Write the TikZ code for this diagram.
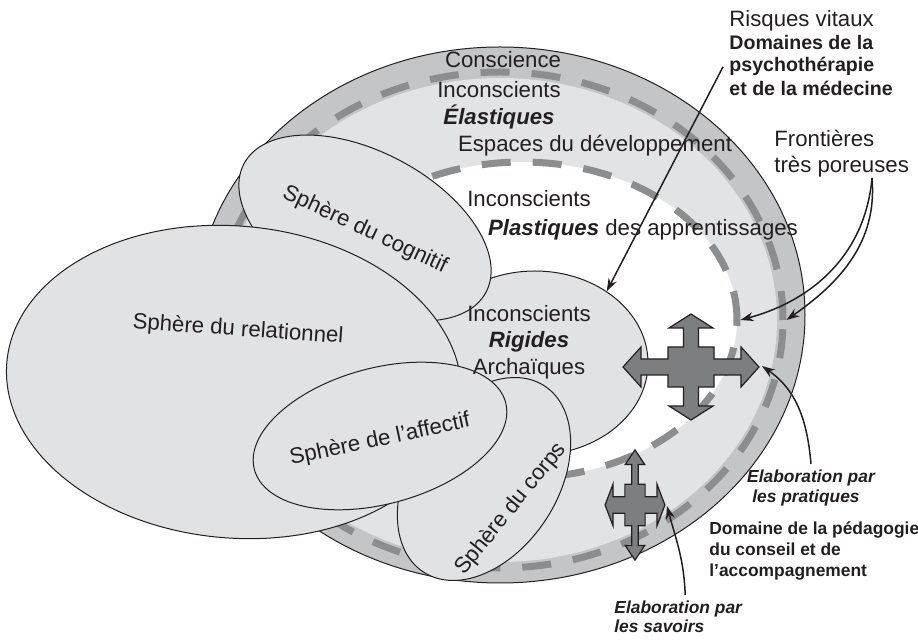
\documentclass[tikz,border=0pt]{standalone}
\usepackage{fontspec}
\setmainfont{Liberation Sans}
\usetikzlibrary{shapes.geometric,arrows.meta}

\definecolor{ink}{RGB}{35,31,32}
\definecolor{ringgray}{RGB}{196,197,199}
\definecolor{bandgray}{RGB}{226,227,229}
\definecolor{spheregray}{RGB}{225,226,228}
\definecolor{dashgray}{RGB}{140,141,143}
\definecolor{arrowgray}{RGB}{125,126,128}

% four-headed stepped arrow: centre, xscale, yscale
\newcommand{\quadarrow}[3]{%
  \draw[crossarrow, shift={(#1)}, xscale=#2, yscale=#3]
    (0,-53) -- (22,-39) -- (7.5,-39) -- (7.5,-20) -- (23,-20) -- (23,-8)
    -- (50,-8) -- (50,-20) -- (68,0) -- (50,20) -- (50,8) -- (23,8)
    -- (23,20) -- (7.5,20) -- (7.5,39) -- (22,39) -- (0,53) -- (-22,39)
    -- (-7.5,39) -- (-7.5,20) -- (-23,20) -- (-23,8) -- (-50,8) -- (-50,20)
    -- (-68,0) -- (-50,-20) -- (-50,-8) -- (-23,-8) -- (-23,-20)
    -- (-7.5,-20) -- (-7.5,-39) -- (-22,-39) -- cycle;}

\begin{document}
\begin{tikzpicture}[x=0.5pt, y=-0.5pt,
  every node/.style={font=\fontsize{11.1}{13.3}\selectfont, text=ink, inner sep=3pt},
  sphere/.style={ellipse, draw=ink, line width=0.5pt, fill=spheregray, inner sep=0pt},
  ringdash/.style={ellipse, draw=dashgray, line width=3.5pt, dash pattern=on 14.5pt off 11pt, inner sep=0pt},
  crossarrow/.style={draw=ink, line width=0.6pt, fill=arrowgray, line join=miter},
  pointer/.style={draw=ink, line width=0.75pt, -{Stealth[length=6.5pt, width=4.5pt]}},
  boldtext/.style={font=\bfseries\fontsize{9.8}{11.6}\selectfont},
  smallbold/.style={font=\bfseries\fontsize{8.7}{10.6}\selectfont},
  smallslant/.style={font=\bfseries\itshape\fontsize{8.7}{10}\selectfont}]
  \useasboundingbox (0,0) rectangle (918,640);

  % outer frontier rings
  \node[ellipse, draw=ink, line width=0.5pt, fill=ringgray, inner sep=0pt,
        minimum width=305pt, minimum height=268pt] (outer) at (500,315) {};
  \node[ellipse, fill=bandgray, inner sep=0pt,
        minimum width=277pt, minimum height=242pt] (band) at (500,320) {};
  \node[ringdash, minimum width=283pt, minimum height=248pt] (outdash) at (500,320) {};
  \node[ringdash, fill=white, minimum width=215pt, minimum height=158pt] (indash) at (522,320) {};

  % spheres
  \node[sphere, minimum width=113pt, minimum height=92pt] (rig) at (535,363) {};
  \node[sphere, minimum width=111pt, minimum height=74pt, rotate=57] (corps) at (484,479) {};
  \node[sphere, minimum width=137pt, minimum height=76pt, rotate=-28] (cog) at (365,228) {};
  \node[sphere, minimum width=228pt, minimum height=156pt, rotate=-5] (rel) at (234,382) {};
  \node[sphere, minimum width=130pt, minimum height=68pt, rotate=15] (aff) at (380,436) {};

  % crosses
  \coordinate (bigcross) at (691,367);
  \coordinate (smallcross) at (635,505);
  \quadarrow{bigcross}{1}{1}
  \quadarrow{smallcross}{0.44}{1.04}

  % texts in the rings
  \node[anchor=base] (consc) at (503,68) {Conscience};
  \node[anchor=base] (incel) at (499,98) {Inconscients};
  \node[anchor=base] (elast) at (499,125) {\textbf{\textit{Élastiques}}};
  \node[anchor=base] (espace) at (595,152) {Espaces du développement};
  \node[anchor=base] (incpl) at (529,207) {Inconscients};
  \node[anchor=base] (plast) at (643,236) {\textbf{\textit{Plastiques}} des apprentissages};
  \node[align=center] (rigtxt) at (529,342) {Inconscients\\\textbf{\textit{Rigides}}\\Archaïques};

  % texts in the spheres
  \node[rotate=-4] (reltxt) at (238,330) {Sphère du relationnel};
  \node[rotate=-25] (cogtxt) at (365,230) {Sphère du cognitif};
  \node[rotate=12] (afftxt) at (380,440) {Sphère de l’affectif};
  \node[rotate=51] (cortxt) at (511,509) {Sphère du corps};

  % side labels
  \node[anchor=base west] (risk) at (723,27) {Risques vitaux};
  \node[anchor=base west, boldtext] (dom1) at (723,50) {Domaines de la};
  \node[anchor=base west, boldtext] (dom2) at (723,72) {psychothérapie};
  \node[anchor=base west, boldtext] (dom3) at (723,96) {et de la médecine};
  \node[anchor=base west] (fr1) at (768,147) {Frontières};
  \node[anchor=base west] (fr2) at (768,173) {très poreuses};
  \node[anchor=base, smallslant] (prat1) at (811,483) {Elaboration par};
  \node[anchor=base, smallslant] (prat2) at (806,503) {les pratiques};
  \node[anchor=base west, smallbold] (peda1) at (703,535) {Domaine de la pédagogie};
  \node[anchor=base west, smallbold] (peda2) at (703,556) {du conseil et de};
  \node[anchor=base west, smallbold] (peda3) at (703,577) {l’accompagnement};
  \node[anchor=base west, smallslant] (sav1) at (608,614) {Elaboration par};
  \node[anchor=base west, smallslant] (sav2) at (608,633) {les savoirs};

  % pointers
  \coordinate (frfoot) at (872,178);
  \coordinate (bigtip) at (762,366);
  \coordinate (smalltip) at (667,506);
  \draw[pointer] (dom2.west) -- (rig.45);
  \draw[pointer] (frfoot) to[out=-95, in=15] (indash.east);
  \draw[pointer] (frfoot) to[out=-85, in=35] (outdash.east);
  \draw[pointer] (prat1.north) to[out=95, in=-35] (bigtip);
  \draw[pointer] ([xshift=3.5pt]sav1.north) to[out=92, in=-75] (smalltip);
\end{tikzpicture}
\end{document}
